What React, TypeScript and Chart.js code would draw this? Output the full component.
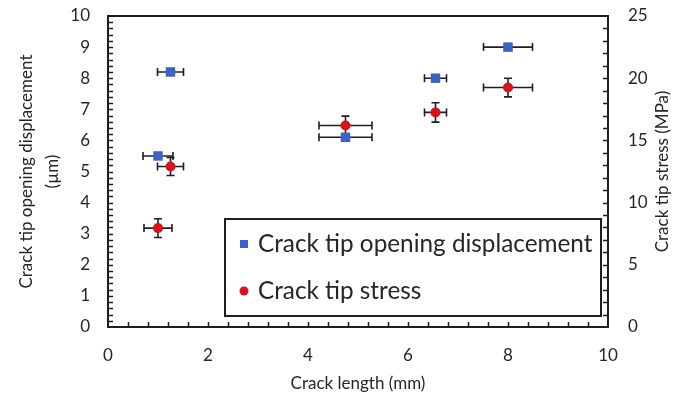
import React, { useEffect, useRef } from "react";
import { Chart, registerables } from "chart.js";

Chart.register(...registerables);

// Crack tip opening displacement (µm) vs crack length (mm)
const ctodCrackLength = [1.25, 1.0, 4.75, 6.55, 8.0];
const ctodValues = [8.2, 5.5, 6.1, 8.0, 9.0];
const ctodLengthErr = [0.26, 0.3, 0.53, 0.22, 0.49];

// Crack tip stress (MPa) vs crack length (mm)
const stressCrackLength = [1.0, 1.25, 4.75, 6.55, 8.0];
const stressValues = [7.95, 12.9, 16.2, 17.25, 19.25];
const stressLengthErr = [0.28, 0.26, 0.53, 0.22, 0.49];
const stressErr = [0.75, 0.72, 0.75, 0.78, 0.75];

// Axis ranges and label steps
const xRange = [0, 10];
const xLabelStep = 2;
const xMinorStep = 0.4;
const ctodRange = [0, 10];
const ctodLabelStep = 1;
const ctodMinorStep = 0.2;
const stressRange = [0, 25];
const stressLabelStep = 5;
const stressMinorStep = 1;

const xTitle = "Crack length (mm)";
const ctodTitle = ["Crack tip opening displacement", "(µm)"];
const stressTitle = "Crack tip stress (MPa)";
const ctodLabel = "Crack tip opening displacement";
const stressLabel = "Crack tip stress";

const FONT = "Lato, 'Open Sans', sans-serif";
const TEXT = "#262626";
const LINE = "#1f1f1f";
const BLUE = "#3d62c2";
const RED = "#d3141c";

const errorBars = {
  id: "errorBars",
  beforeDatasetsDraw(chart: any) {
    const ctx = chart.ctx;
    const xs = chart.scales.x;
    ctx.save();
    ctx.strokeStyle = LINE;
    ctx.lineWidth = 1.6;
    const cap = 4;
    chart.data.datasets.forEach((ds: any) => {
      const ys = chart.scales[ds.yAxisID];
      ds.data.forEach((p: any) => {
        const cx = xs.getPixelForValue(p.x);
        const cy = ys.getPixelForValue(p.y);
        ctx.beginPath();
        if (p.xErr) {
          const l = xs.getPixelForValue(p.x - p.xErr);
          const r = xs.getPixelForValue(p.x + p.xErr);
          ctx.moveTo(l, cy); ctx.lineTo(r, cy);
          ctx.moveTo(l, cy - cap); ctx.lineTo(l, cy + cap);
          ctx.moveTo(r, cy - cap); ctx.lineTo(r, cy + cap);
        }
        if (p.yErr) {
          const t = ys.getPixelForValue(p.y + p.yErr);
          const b = ys.getPixelForValue(p.y - p.yErr);
          ctx.moveTo(cx, t); ctx.lineTo(cx, b);
          ctx.moveTo(cx - cap, t); ctx.lineTo(cx + cap, t);
          ctx.moveTo(cx - cap, b); ctx.lineTo(cx + cap, b);
        }
        ctx.stroke();
      });
    });
    ctx.restore();
  },
};

const frameAndDecor = {
  id: "frameAndDecor",
  afterDraw(chart: any) {
    const ctx = chart.ctx;
    const { left, right, top, bottom } = chart.chartArea;
    const xs = chart.scales.x;
    const yl = chart.scales.y;
    const yr = chart.scales.y2;
    ctx.save();
    // plot frame
    ctx.strokeStyle = LINE;
    ctx.lineWidth = 2;
    ctx.strokeRect(left, top, right - left, bottom - top);
    // inward tick marks
    ctx.lineWidth = 1.5;
    const tl = 5;
    ctx.beginPath();
    const nx = Math.round((xRange[1] - xRange[0]) / xMinorStep);
    for (let i = 1; i < nx; i++) {
      const px = Math.round(xs.getPixelForValue(xRange[0] + i * xMinorStep)) + 0.5;
      ctx.moveTo(px, bottom); ctx.lineTo(px, bottom - tl);
    }
    const nl = Math.round((ctodRange[1] - ctodRange[0]) / ctodMinorStep);
    for (let i = 1; i < nl; i++) {
      const py = Math.round(yl.getPixelForValue(ctodRange[0] + i * ctodMinorStep)) + 0.5;
      ctx.moveTo(left, py); ctx.lineTo(left + tl, py);
    }
    const nr = Math.round((stressRange[1] - stressRange[0]) / stressMinorStep);
    for (let i = 1; i < nr; i++) {
      const py = Math.round(yr.getPixelForValue(stressRange[0] + i * stressMinorStep)) + 0.5;
      ctx.moveTo(right, py); ctx.lineTo(right - tl, py);
    }
    ctx.stroke();

    // axis titles
    ctx.fillStyle = TEXT;
    ctx.font = `17px ${FONT}`;
    ctx.textAlign = "center";
    ctx.textBaseline = "middle";
    const midY = (top + bottom) / 2;
    ctx.fillText(xTitle, (left + right) / 2, 384);
    ctx.save();
    ctx.translate(27, midY);
    ctx.rotate(-Math.PI / 2);
    ctx.fillText(ctodTitle[0], 0, 0);
    ctx.restore();
    ctx.save();
    ctx.translate(53, midY);
    ctx.rotate(-Math.PI / 2);
    ctx.fillText(ctodTitle[1], 0, 0);
    ctx.restore();
    ctx.save();
    ctx.translate(663, midY);
    ctx.rotate(-Math.PI / 2);
    ctx.fillText(stressTitle, 0, 0);
    ctx.restore();

    // legend box
    const bx = 225, by = 219, bw = 376, bh = 97;
    ctx.fillStyle = "#ffffff";
    ctx.fillRect(bx, by, bw, bh);
    ctx.strokeStyle = LINE;
    ctx.lineWidth = 2;
    ctx.strokeRect(bx, by, bw, bh);
    const ds = chart.data.datasets;
    ctx.font = `24.3px ${FONT}`;
    ctx.textAlign = "left";
    ctx.textBaseline = "middle";
    // square marker
    ctx.fillStyle = ds[0].backgroundColor;
    ctx.fillRect(240, 240, 8, 8);
    ctx.fillStyle = TEXT;
    ctx.fillText(ds[0].label, 258, 244);
    // circle marker
    ctx.fillStyle = ds[1].backgroundColor;
    ctx.beginPath();
    ctx.arc(244, 291, 4.5, 0, Math.PI * 2);
    ctx.fill();
    ctx.fillStyle = TEXT;
    ctx.fillText(ds[1].label, 258, 291);
    ctx.restore();
  },
};

export default function App() {
  const ref = useRef<HTMLCanvasElement | null>(null);

  useEffect(() => {
    if (!ref.current) return;
    const ctodData = ctodCrackLength.map((x, i) => ({
      x,
      y: ctodValues[i],
      xErr: ctodLengthErr[i],
    }));
    const stressData = stressCrackLength.map((x, i) => ({
      x,
      y: stressValues[i],
      xErr: stressLengthErr[i],
      yErr: stressErr[i],
    }));
    const tickFont = { family: FONT, size: 17 };
    const fitVertical = (w: number) => (s: any) => {
      s.width = w;
      s.paddingTop = 0;
      s.paddingBottom = 0;
    };
    const chart = new Chart(ref.current, {
      type: "scatter",
      data: {
        datasets: [
          {
            label: ctodLabel,
            data: ctodData,
            yAxisID: "y",
            pointStyle: "rect",
            pointRadius: 6.7,
            backgroundColor: BLUE,
            borderColor: BLUE,
            borderWidth: 0,
          },
          {
            label: stressLabel,
            data: stressData,
            yAxisID: "y2",
            pointStyle: "circle",
            pointRadius: 5,
            backgroundColor: RED,
            borderColor: RED,
            borderWidth: 0,
          },
        ],
      },
      options: {
        responsive: false,
        animation: false,
        layout: { padding: { top: 16, left: 0, right: 0, bottom: 0 } },
        plugins: {
          legend: { display: false },
          tooltip: { enabled: false },
        },
        scales: {
          x: {
            type: "linear",
            min: xRange[0],
            max: xRange[1],
            grid: { display: false, drawTicks: false },
            border: { display: false },
            ticks: {
              stepSize: xLabelStep,
              color: TEXT,
              font: tickFont,
              padding: 18,
              maxRotation: 0,
            },
            afterFit: (s: any) => {
              s.height = 76;
              s.paddingLeft = 0;
              s.paddingRight = 0;
            },
          },
          y: {
            type: "linear",
            position: "left",
            min: ctodRange[0],
            max: ctodRange[1],
            grid: { display: false, drawTicks: false },
            border: { display: false },
            ticks: {
              stepSize: ctodLabelStep,
              color: TEXT,
              font: tickFont,
              padding: 18,
            },
            afterFit: fitVertical(108),
          },
          y2: {
            type: "linear",
            position: "right",
            min: stressRange[0],
            max: stressRange[1],
            grid: { display: false, drawTicks: false },
            border: { display: false },
            ticks: {
              stepSize: stressLabelStep,
              color: TEXT,
              font: tickFont,
              padding: 20,
            },
            afterFit: fitVertical(78),
          },
        },
      },
      plugins: [errorBars, frameAndDecor],
    });
    return () => chart.destroy();
  }, []);

  return (
    <div style={{ position: "fixed", left: 0, top: 0, width: 686, height: 403, background: "#fff" }}>
      <canvas ref={ref} width={686} height={403} />
    </div>
  );
}
